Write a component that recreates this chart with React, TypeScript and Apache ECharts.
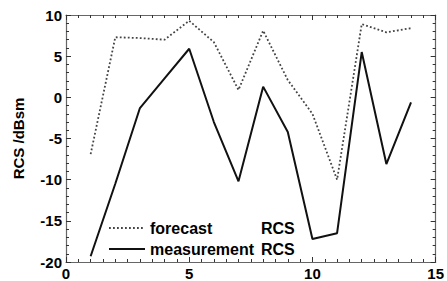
import React, { useEffect, useRef } from "react";
import * as echarts from "echarts";

const xValues = [1, 2, 3, 4, 5, 6, 7, 8, 9, 10, 11, 12, 13, 14];
const forecastRCS = [-6.9, 7.3, 7.2, 7.0, 9.3, 6.7, 0.9, 8.1, 2.1, -2.0, -10.0, 8.9, 7.9, 8.4];
const measurementRCS = [-19.3, -10.5, -1.3, 2.3, 5.9, -3.0, -10.2, 1.3, -4.2, -17.2, -16.5, 5.5, -8.1, -0.6];
const seriesNames = ["forecast RCS", "measurement RCS"];

const FONT = "'Liberation Sans', Arial, sans-serif";

export default function App() {
  const ref = useRef<HTMLDivElement>(null);
  useEffect(() => {
    if (!ref.current) return;
    const chart = echarts.init(ref.current, undefined, { renderer: "svg" });
    const frame = { lineStyle: { color: "#666", width: 1.2 } };
    const xTickCommon = {
      min: 0,
      max: 15,
      interval: 5,
      type: "value" as const,
      axisLine: { show: true, onZero: false, ...frame },
      axisTick: { show: true, inside: true, length: 5, lineStyle: { color: "#333", width: 1 } },
      minorTick: { show: true, splitNumber: 10, length: 3, lineStyle: { color: "#333", width: 1 } },
      splitLine: { show: false },
    };
    const yTickCommon = {
      min: -20,
      max: 10,
      interval: 5,
      type: "value" as const,
      axisLine: { show: true, onZero: false, ...frame },
      axisTick: { show: true, inside: true, length: 5, lineStyle: { color: "#333", width: 1 } },
      minorTick: { show: true, splitNumber: 5, length: 3, lineStyle: { color: "#333", width: 1 } },
      splitLine: { show: false },
    };
    const labelStyle = { color: "#000", fontFamily: FONT, fontWeight: "bold" as const, fontSize: 15 };
    const legendStyle = { ...labelStyle, fontSize: 16 };
    chart.setOption({
      animation: false,
      backgroundColor: "#fff",
      grid: { left: 66, right: 7, top: 15, bottom: 18, containLabel: false },
      xAxis: [
        { ...xTickCommon, position: "bottom", axisLabel: { ...labelStyle, margin: 4 } },
        { ...xTickCommon, position: "top", axisLabel: { show: false } },
      ],
      yAxis: [
        {
          ...yTickCommon,
          position: "left",
          axisLabel: { ...labelStyle, margin: 4 },
          name: "RCS /dBsm",
          nameLocation: "middle",
          nameGap: 40,
          nameTextStyle: { ...labelStyle, fontSize: 15 },
        },
        { ...yTickCommon, position: "right", axisLabel: { show: false } },
      ],
      legend: {
        orient: "vertical",
        left: 108,
        top: 220,
        itemWidth: 36,
        itemHeight: 14,
        itemGap: 5,
        padding: 0,
        itemStyle: { opacity: 0 },
        data: seriesNames,
        formatter: (name: string) => {
          const parts = name.split(" ");
          return "{a|" + parts[0] + "}{b|" + parts[1] + "}";
        },
        textStyle: {
          ...legendStyle,
          rich: {
            a: { ...legendStyle, width: 111 },
            b: { ...legendStyle },
          },
        },
      },
      series: [
        {
          name: seriesNames[0],
          type: "line",
          data: xValues.map((x, i) => [x, forecastRCS[i]]),
          symbol: "none",
          lineStyle: { color: "#444", width: 1.8, type: [1.8, 2.2] },
          itemStyle: { color: "#444" },
        },
        {
          name: seriesNames[1],
          type: "line",
          data: xValues.map((x, i) => [x, measurementRCS[i]]),
          symbol: "none",
          lineStyle: { color: "#111", width: 2 },
          itemStyle: { color: "#111" },
        },
      ],
    });
    return () => chart.dispose();
  }, []);
  return (
    <div
      ref={ref}
      style={{ position: "fixed", left: 0, top: 0, width: 447, height: 281, background: "#fff" }}
    />
  );
}
